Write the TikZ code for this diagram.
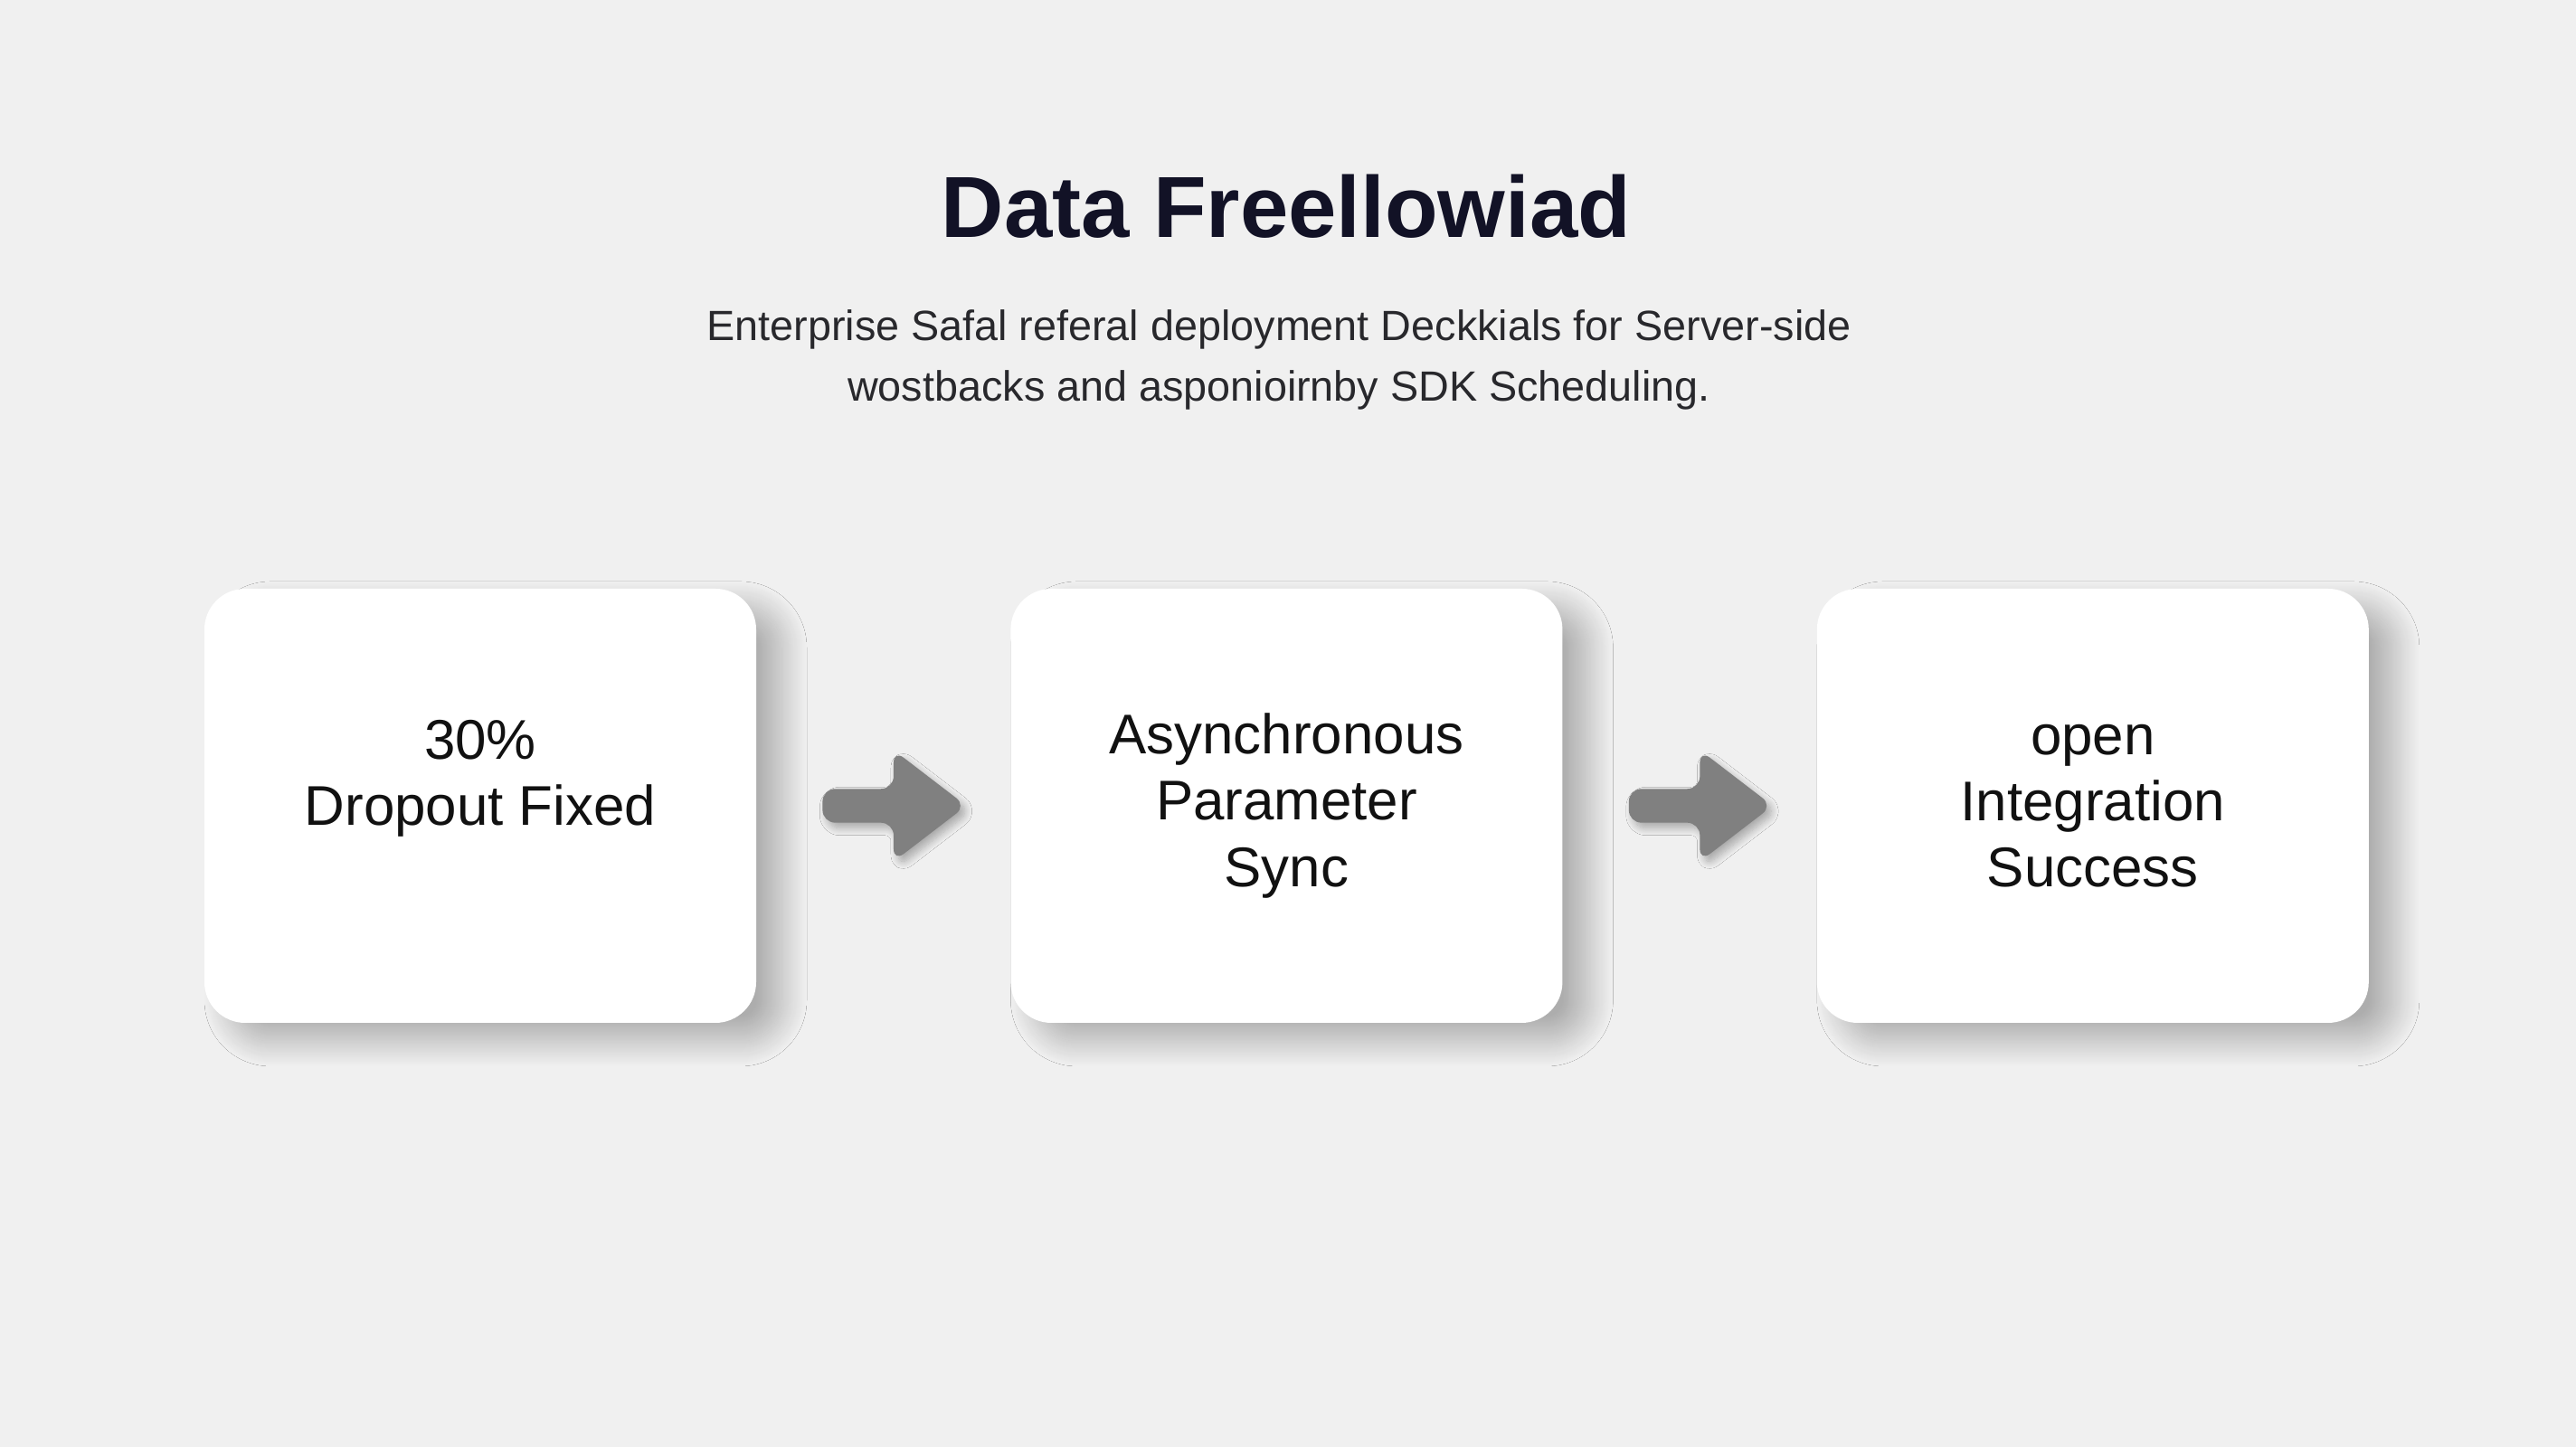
\documentclass[tikz,border=0pt]{standalone}
\usepackage{fontspec}
\setmainfont{Liberation Sans}
\usetikzlibrary{positioning,shapes.arrows,shadows.blur}
\definecolor{bgcolor}{RGB}{240,240,240}
\definecolor{titlecolor}{RGB}{18,18,38}
\definecolor{subcolor}{RGB}{40,40,44}
\definecolor{boxtext}{RGB}{17,17,17}
\definecolor{arrowcolor}{RGB}{128,128,128}

\begin{document}
\begin{tikzpicture}[
		node distance=2.8cm,
		titlenode/.style={font=\bfseries\fontsize{27.3}{32}\selectfont, text=titlecolor, inner sep=0pt},
		subnode/.style={font=\fontsize{13.3}{19.1}\selectfont, text=subcolor, align=center, inner sep=0pt},
		stepnode/.style={shape=rectangle, rounded corners=0.45cm, align=center, fill=white, minimum width=6.1cm, minimum height=4.8cm, text=boxtext, font=\fontsize{17.6}{20.8}\selectfont, blur shadow={shadow xshift=0.28cm, shadow yshift=-0.2cm, shadow blur radius=0.28cm, shadow blur steps=30, shadow opacity=28}},
		flowarrow/.style={shape=single arrow, fill=arrowcolor, minimum height=1.59cm, minimum width=1.22cm, inner sep=0.18cm, single arrow head extend=0.43cm, single arrow tip angle=75, rounded corners=4pt, blur shadow={shadow xshift=0.05cm, shadow yshift=-0.06cm, shadow blur radius=0.08cm, shadow blur steps=12, shadow opacity=30}}
		]
		\fill[bgcolor] (0,0) rectangle (28.48,16);
		\useasboundingbox (0,0) rectangle (28.48,16);
		\node[titlenode, anchor=base] (title) at (14.22,13.37) {Data Freellowiad};
		\node[subnode] (subtitle) at (14.14,12.02) {Enterprise Safal referal deployment Deckkials for Server-side\\wostbacks and asponioirnby SDK Scheduling.};
		\node[stepnode] (dropout) at (5.31,7.09) {30\%\\Dropout Fixed\\\mbox{}};
		\node[stepnode, right=of dropout] (sync) {Asynchronous\\Parameter\\Sync};
		\node[stepnode, right=of sync] (success) {open\\Integration\\Success};
		\path (dropout.east) -- (sync.west) node[midway, flowarrow] (arrowA) {};
		\path (sync.east) -- (success.west) node[midway, flowarrow] (arrowB) {};
	\end{tikzpicture}
\end{document}
